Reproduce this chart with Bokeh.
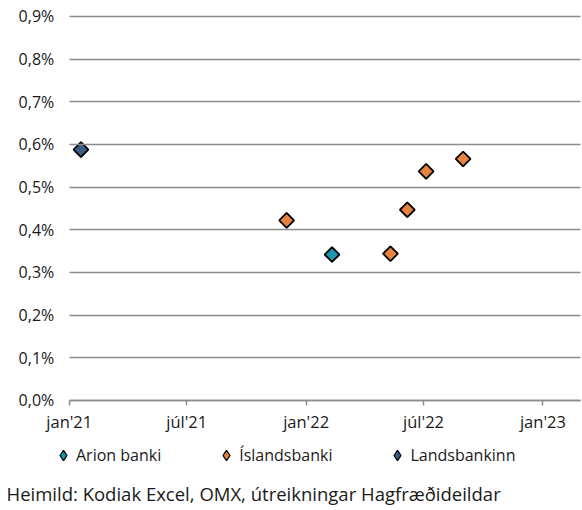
import math
import pandas as pd
from bokeh.plotting import figure
from bokeh.models import Range1d, FixedTicker, Legend, LegendItem, Label
from bokeh.embed import file_html
from bokeh.resources import INLINE

# ---- data ----
arion_dates = ["2022-02-10"]
arion_values = [0.342]
islandsbanki_dates = ["2021-12-02", "2022-05-11", "2022-06-06", "2022-07-05", "2022-08-31"]
islandsbanki_values = [0.422, 0.344, 0.447, 0.537, 0.566]
landsbankinn_dates = ["2021-01-19"]
landsbankinn_values = [0.588]

series_names = ["Arion banki", "Íslandsbanki", "Landsbankinn"]
series_colors = ["#1A97AA", "#E6843F", "#3A5F85"]

x_tick_dates = ["2021-01-01", "2021-07-01", "2022-01-01", "2022-07-01", "2023-01-01"]
x_tick_labels = ["jan'21", "júl'21", "jan'22", "júl'22", "jan'23"]
y_ticks = [0.0, 0.1, 0.2, 0.3, 0.4, 0.5, 0.6, 0.7, 0.8, 0.9]
y_labels = ["0,0%", "0,1%", "0,2%", "0,3%", "0,4%", "0,5%", "0,6%", "0,7%", "0,8%", "0,9%"]
source_text = "Heimild: Kodiak Excel, OMX, útreikningar Hagfræðideildar"

# visible window (whole canvas is the frame; axes sit at fixed locations inside it)
view_x_start = "2020-09-17"
view_x_end = "2023-03-03"
axis_x_start = "2021-01-01"
axis_x_end = "2023-02-28"
view_y_start = -0.258
view_y_end = 0.9375

FONT = "Open Sans"
GRID = "#8C8C8C"
TEXT = "#1a1a1a"
GRID_LEN = 511

def ms(d):
    return pd.Timestamp(d).value / 1e6

p = figure(frame_width=582, frame_height=510, x_axis_type="datetime",
           output_backend="svg", toolbar_location=None,
           x_range=Range1d(ms(view_x_start), ms(view_x_end)),
           y_range=Range1d(view_y_start, view_y_end),
           min_border_left=0, min_border_right=0, min_border_top=0, min_border_bottom=0)
p.outline_line_color = None
p.background_fill_color = "white"
p.grid.visible = False

# y axis: labels left of jan'21, long inward ticks act as the horizontal gridlines
yax = p.yaxis[0]
yax.fixed_location = ms(axis_x_start)
yax.ticker = FixedTicker(ticks=y_ticks)
yax.major_label_overrides = {t: l for t, l in zip(y_ticks, y_labels)}
yax.axis_line_color = None
yax.major_tick_line_color = GRID
yax.major_tick_line_width = 1.5
yax.major_tick_in = GRID_LEN
yax.major_tick_out = 0
yax.minor_tick_line_color = None
yax.major_label_standoff = 15
yax.major_label_text_font = FONT
yax.major_label_text_font_size = "16px"
yax.major_label_text_color = TEXT

xt = [ms(d) for d in x_tick_dates]
xax = p.xaxis[0]
xax.fixed_location = 0
xax.bounds = (ms(axis_x_start), ms(axis_x_end))
xax.ticker = FixedTicker(ticks=xt)
xax.major_label_overrides = {t: l for t, l in zip(xt, x_tick_labels)}
xax.axis_line_color = GRID
xax.axis_line_width = 1.5
xax.major_tick_line_color = GRID
xax.major_tick_line_width = 1.5
xax.major_tick_in = 0
xax.major_tick_out = 5
xax.minor_tick_line_color = None
xax.major_label_standoff = 5
xax.major_label_text_font = FONT
xax.major_label_text_font_size = "16.5px"
xax.major_label_text_color = TEXT

series = [(arion_dates, arion_values), (islandsbanki_dates, islandsbanki_values),
          (landsbankinn_dates, landsbankinn_values)]
proxies = []
for (dates, vals), col in zip(series, series_colors):
    # legend symbol renderer (diamond), hidden under the real markers
    proxies.append(p.scatter(x=[ms(d) for d in dates], y=vals, marker="diamond", size=8,
                             fill_color=col, line_color="black", line_width=1.3))
for (dates, vals), col in zip(series, series_colors):
    p.scatter(x=[ms(d) for d in dates], y=vals, marker="square", angle=math.pi / 4,
              size=10.5, fill_color=col, line_color="black", line_width=1.8)

legend = Legend(items=[LegendItem(label=n, renderers=[r]) for n, r in zip(series_names, proxies)],
                orientation="horizontal", location=(50, 42),
                glyph_width=26, glyph_height=26, label_standoff=0, spacing=52,
                padding=0, margin=0, border_line_color=None, background_fill_alpha=0,
                label_text_font=FONT, label_text_font_size="16px", label_text_color=TEXT)
p.add_layout(legend, "center")

src = Label(x=6, y=17, x_units="screen", y_units="screen", text=source_text,
            text_font=FONT, text_font_size="18.5px", text_color=TEXT,
            text_baseline="middle", text_align="left")
p.add_layout(src)

open("out.html", "w").write(file_html(p, INLINE))
